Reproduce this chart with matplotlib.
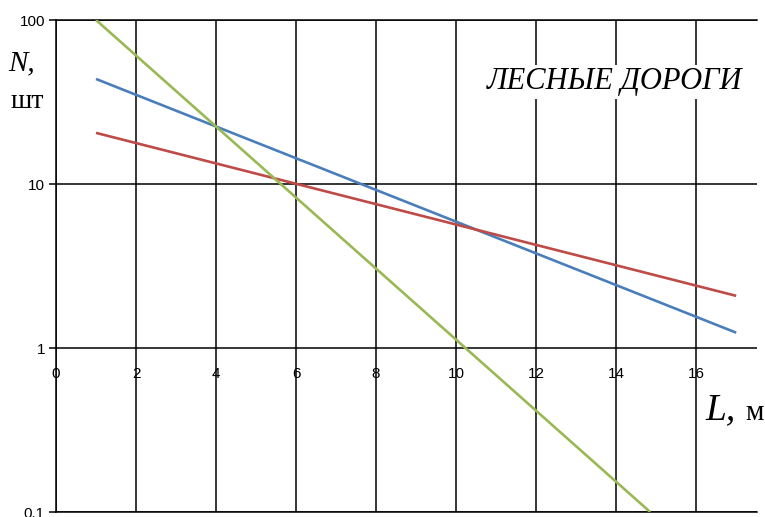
import matplotlib
matplotlib.use("Agg")
import matplotlib.pyplot as plt

# values (straight lines on a log axis)
blue_x = [1, 17]
blue_y = [43.7, 1.24]
red_x = [1, 17]
red_y = [20.5, 2.08]
green_x = [1, 14.85]
green_y = [100, 0.1]

x_ticks = [0, 2, 4, 6, 8, 10, 12, 14, 16]
y_ticks = [0.1, 1, 10, 100]
y_labels = ["0.1", "1", "10", "100"]

fig = plt.figure(figsize=(7.65, 5.17), dpi=100)
ax = fig.add_axes([56 / 765, 5 / 517, 701 / 765, 492 / 517])

ax.set_yscale("log")
ax.set_xlim(0, 17.52)
ax.set_ylim(0.1, 100)

ax.plot(blue_x, blue_y, color="#4a7ebb", lw=1.9, solid_capstyle="butt", zorder=3)
ax.plot(red_x, red_y, color="#be4b48", lw=1.9, solid_capstyle="butt", zorder=3)
ax.plot(green_x, green_y, color="#98b954", lw=1.9, solid_capstyle="butt", zorder=3)

# grid
ax.set_xticks(x_ticks)
ax.set_yticks(y_ticks)
ax.set_yticklabels(y_labels)
ax.yaxis.set_minor_locator(matplotlib.ticker.NullLocator())
ax.grid(True, color="black", lw=1.1)
ax.tick_params(axis="x", length=0, labelbottom=False)
ax.tick_params(axis="y", length=5, width=1.1, pad=3, labelsize=11)
for lab in ax.get_yticklabels():
    lab.set_family("Liberation Sans")

for side in ["left", "top", "bottom"]:
    ax.spines[side].set_color("black")
    ax.spines[side].set_linewidth(1.1)
ax.spines["right"].set_visible(False)

# x labels sit under the y=1 line
for x in x_ticks:
    ax.annotate(str(x), (x, 1), xytext=(0, -26), textcoords="offset pixels",
                ha="center", va="center", fontsize=11, family="Liberation Sans")

serif = "Liberation Serif"
fig.text(22 / 765, 1 - 63 / 517, "N,", fontsize=21, style="italic", family=serif,
         ha="center", va="center")
fig.text(27 / 765, 1 - 101 / 517, "шт", fontsize=20, family=serif,
         ha="center", va="center")
fig.text(705 / 765, 1 - 410 / 517, "L,", fontsize=27, style="italic", family=serif,
         ha="left", va="center")
fig.text(764 / 765, 1 - 413 / 517, "м", fontsize=21, family=serif,
         ha="right", va="center")

fig.text(615 / 765, 1 - 82 / 517, "ЛЕСНЫЕ ДОРОГИ", fontsize=22, style="italic",
         family=serif, ha="center", va="center", zorder=5,
         bbox=dict(facecolor="white", edgecolor="none", pad=2))

fig.savefig("out.png", dpi=100)
